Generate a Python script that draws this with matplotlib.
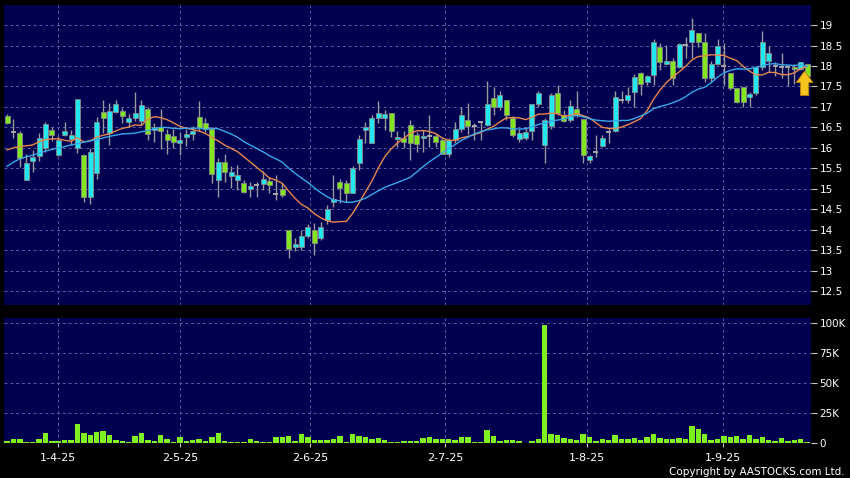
import numpy as np
import pandas as pd
import matplotlib
matplotlib.use("Agg")
import matplotlib.pyplot as plt
from matplotlib.ticker import FuncFormatter

# daily OHLC (oldest first)
opens = [16.78, 16.38, 16.36, 15.22, 15.69, 15.79, 15.99, 16.43, 15.83, 16.32,
         16.21, 15.99, 15.83, 14.80, 15.38, 16.88, 16.36, 16.87, 16.89, 16.63,
         16.74, 16.66, 16.96, 16.43, 16.52, 16.35, 16.29, 16.12, 16.27, 16.34,
         16.76, 16.60, 16.45, 15.21, 15.66, 15.32, 15.21, 15.15, 15.00, 15.07,
         15.11, 15.20, 14.88, 14.99, 14.00, 13.58, 13.58, 13.85, 13.99, 13.79,
         14.23, 14.67, 15.17, 15.13, 14.90, 15.64, 16.43, 16.13, 16.73, 16.73,
         16.85, 16.22, 16.25, 16.57, 16.31, 16.23, 16.30, 16.30, 16.19, 15.86,
         16.19, 16.45, 16.68, 16.52, 16.64, 16.55, 17.21, 16.99, 17.18, 16.73,
         16.21, 16.23, 16.40, 17.06, 16.08, 16.53, 17.33, 16.81, 16.68, 16.96,
         16.70, 15.70, 15.90, 16.04, 16.39, 16.41, 17.18, 17.17, 17.36, 17.84,
         17.60, 17.77, 18.47, 18.06, 18.13, 17.98, 18.51, 18.58, 18.80, 18.58,
         17.70, 18.06, 18.00, 17.82, 17.45, 17.49, 17.23, 17.33, 17.98, 18.11,
         18.00, 17.98, 17.98, 17.98, 17.92, 18.04]
highs = [16.82, 16.70, 16.42, 15.86, 15.95, 16.36, 16.64, 16.52, 16.28, 16.62,
         16.43, 17.20, 15.86, 15.99, 16.75, 17.17, 17.09, 17.17, 16.97, 16.82,
         17.36, 17.18, 17.00, 16.61, 16.95, 16.47, 16.47, 16.39, 16.47, 16.53,
         17.14, 16.72, 16.52, 15.74, 15.86, 15.55, 15.58, 15.21, 15.17, 15.17,
         15.44, 15.29, 15.33, 15.15, 14.00, 13.79, 14.00, 14.14, 14.17, 14.20,
         14.60, 15.33, 15.24, 15.21, 15.56, 16.31, 16.64, 16.80, 17.15, 16.93,
         16.85, 16.40, 16.40, 16.68, 16.39, 16.43, 16.80, 16.33, 16.23, 16.23,
         16.62, 16.99, 17.10, 16.60, 16.64, 17.63, 17.49, 17.39, 17.18, 16.78,
         16.47, 16.52, 17.06, 17.40, 16.72, 17.33, 17.53, 16.92, 17.17, 17.40,
         16.70, 15.82, 16.31, 16.31, 16.52, 17.40, 17.40, 17.48, 17.80, 17.86,
         17.78, 18.67, 18.55, 18.51, 18.19, 18.55, 18.71, 19.17, 18.80, 18.80,
         18.12, 18.67, 18.55, 17.82, 17.45, 17.49, 17.37, 18.00, 18.86, 18.48,
         18.10, 18.31, 18.00, 18.05, 18.10, 18.06]
lows = [16.58, 16.24, 15.53, 15.22, 15.42, 15.67, 15.91, 16.16, 15.79, 16.28,
        16.07, 15.88, 14.68, 14.63, 15.25, 16.36, 16.07, 16.85, 16.60, 16.52,
        16.66, 16.56, 16.20, 16.15, 15.96, 15.86, 15.99, 15.82, 16.04, 16.19,
        16.41, 16.39, 15.13, 14.80, 15.17, 15.01, 14.98, 14.89, 14.79, 14.80,
        14.97, 14.89, 14.72, 14.80, 13.30, 13.48, 13.50, 13.79, 13.38, 13.75,
        14.14, 14.55, 14.65, 14.68, 14.89, 15.46, 16.11, 16.11, 16.61, 16.43,
        16.27, 16.03, 16.00, 15.70, 15.90, 15.90, 16.03, 16.03, 15.85, 15.78,
        16.12, 16.39, 16.35, 16.19, 16.19, 16.54, 16.80, 16.92, 16.68, 16.27,
        16.15, 16.19, 16.19, 17.00, 15.62, 16.47, 16.80, 16.64, 16.64, 16.76,
        15.62, 15.64, 15.78, 16.01, 16.12, 16.39, 17.09, 17.09, 17.00, 17.29,
        17.53, 17.53, 17.90, 18.02, 17.53, 17.94, 18.19, 18.19, 18.47, 17.62,
        17.62, 18.02, 17.53, 17.41, 17.09, 17.00, 17.00, 17.29, 17.90, 17.85,
        17.75, 17.70, 17.50, 17.55, 17.90, 17.72]
closes = [16.60, 16.38, 15.75, 15.64, 15.77, 16.24, 16.58, 16.32, 16.18, 16.40,
          16.32, 17.19, 14.81, 15.91, 16.64, 16.72, 16.91, 17.07, 16.77, 16.74,
          16.84, 17.05, 16.35, 16.52, 16.42, 16.20, 16.15, 16.20, 16.33, 16.40,
          16.49, 16.45, 15.37, 15.66, 15.42, 15.42, 15.33, 14.93, 15.07, 15.09,
          15.23, 15.10, 14.88, 14.85, 13.54, 13.64, 13.85, 14.07, 13.68, 14.07,
          14.50, 14.75, 15.03, 14.90, 15.50, 16.21, 16.52, 16.72, 16.86, 16.82,
          16.40, 16.26, 16.15, 16.12, 16.09, 16.29, 16.30, 16.15, 15.86, 16.19,
          16.47, 16.80, 16.54, 16.53, 16.64, 17.06, 16.99, 17.28, 16.80, 16.31,
          16.37, 16.39, 17.06, 17.33, 16.67, 17.28, 16.84, 16.66, 17.03, 16.80,
          15.82, 15.79, 15.90, 16.23, 16.39, 17.25, 17.18, 17.28, 17.74, 17.57,
          17.75, 18.58, 18.10, 18.13, 17.70, 18.53, 18.51, 18.88, 18.58, 17.70,
          18.04, 18.50, 18.00, 17.45, 17.13, 17.13, 17.32, 17.98, 18.58, 18.32,
          18.00, 17.98, 17.98, 17.92, 18.09, 17.75]
# volume in thousands of shares
volumes = [2.0, 3.6, 3.6, 1.1, 1.1, 3.6, 8.6, 2.0, 2.0, 2.5,
           2.5, 16.0, 8.3, 7.0, 9.7, 10.5, 6.7, 2.5, 2.2, 0.8,
           6.4, 8.9, 2.5, 2.0, 7.0, 3.6, 1.1, 5.3, 1.7, 2.8,
           3.3, 1.7, 5.6, 8.9, 2.0, 0.8, 1.4, 0.8, 3.3, 2.2,
           1.4, 1.4, 5.0, 5.0, 6.1, 2.0, 7.8, 5.3, 2.5, 2.5,
           2.8, 3.3, 6.4, 0.8, 7.8, 6.1, 5.3, 3.9, 4.7, 2.5,
           1.1, 1.1, 1.7, 2.0, 2.2, 4.4, 5.3, 3.3, 3.3, 3.3,
           2.8, 5.0, 5.3, 0.8, 0.8, 11.0, 6.1, 2.2, 2.5, 2.5,
           1.7, 0.3, 1.7, 3.3, 98.6, 7.5, 6.7, 4.2, 3.3, 2.5,
           7.5, 5.0, 1.7, 3.3, 2.5, 7.2, 3.9, 3.9, 4.2, 2.5,
           5.0, 7.5, 4.4, 3.6, 3.9, 4.4, 3.6, 14.4, 11.9, 7.5,
           2.8, 3.3, 6.1, 5.3, 6.4, 3.3, 6.9, 3.9, 5.0, 2.5,
           2.0, 4.4, 2.0, 2.5, 3.6, 1.1]
# moving averages at the left edge (need history before the window)
ma10_head = [15.95, 16.00, 16.03, 16.05, 16.07, 16.15, 16.20, 16.22, 16.22]
ma20_head = [15.55, 15.65, 15.73, 15.78, 15.82, 15.87, 15.92, 15.96, 16.00, 16.03,
             16.07, 16.10, 16.14, 16.17, 16.20, 16.24, 16.28, 16.31, 16.34]

date_labels = ["1-4-25", "2-5-25", "2-6-25", "2-7-25", "1-8-25", "1-9-25"]
date_pos = [8, 27, 47.4, 68.5, 90.6, 111.8]
price_ticks = [12.5, 13, 13.5, 14, 14.5, 15, 15.5, 16, 16.5, 17, 17.5, 18, 18.5, 19]
vol_ticks = [0, 25, 50, 75, 100]

BG = '#000050'
GRID = '#5c5ca0'
UP = '#22e6f0'
DOWN = '#82e61e'
WICK = '#9a9a9a'

df = pd.DataFrame({"o": opens, "h": highs, "l": lows, "c": closes, "v": volumes})
x = np.arange(len(df))
ma10 = df["c"].rolling(10).mean().values
ma10[:9] = ma10_head
ma20 = df["c"].rolling(20).mean().values
ma20[:19] = ma20_head

fig = plt.figure(figsize=(8.5, 4.78), dpi=100, facecolor='black')
ax = fig.add_axes([4/850, 1-305/478, 807/850, 300/478], facecolor=BG)
axv = fig.add_axes([4/850, 1-443.3/478, 807/850, 125.3/478], facecolor=BG)

# grids
for a in (ax, axv):
    a.set_xlim(-0.47, 125.6)
    a.set_xticks(date_pos)
    a.grid(True, color=GRID, linestyle=(0, (3, 3)), linewidth=0.7)
    a.set_axisbelow(True)
    for s in a.spines.values():
        s.set_visible(False)
    a.yaxis.tick_right()
    a.tick_params(axis='y', colors='#c8c8c8', labelcolor='white', length=4,
                  width=0.8, pad=2, labelsize=7.5)

# candles
w = 0.78
up = df["c"] > df["o"] + 0.02
down = df["c"] < df["o"] - 0.02
doji = ~(up | down)
ax.vlines(x, df["l"], df["h"], color=WICK, linewidth=1, zorder=2)
ax.bar(x[up], (df["c"] - df["o"])[up], bottom=df["o"][up], width=w,
       color=UP, edgecolor='#8a8a8a', linewidth=0.6, zorder=3)
ax.bar(x[down], (df["o"] - df["c"])[down], bottom=df["c"][down], width=w,
       color=DOWN, edgecolor='#8a8a8a', linewidth=0.6, zorder=3)
ax.hlines(df["c"][doji], x[doji] - w/2, x[doji] + w/2, color='#a8a8a8', linewidth=1.4, zorder=3)

ax.plot(x, ma10, color='#e8884a', linewidth=1, zorder=4)
ax.plot(x, ma20, color='#3aa8e8', linewidth=1, zorder=4)

# last-close arrow
ax.annotate('', xy=(124.6, 17.88), xytext=(124.6, 17.28),
            arrowprops=dict(arrowstyle='simple,head_length=0.7,head_width=1.0,tail_width=0.5',
                            fc='#f6c21c', ec='#b88000', lw=0.6, shrinkA=0, shrinkB=0,
                            mutation_scale=12), zorder=5)

ax.set_ylim(12.16, 19.49)
ax.set_yticks(price_ticks)
ax.yaxis.set_major_formatter(FuncFormatter(lambda v, p: '%g' % v))
ax.tick_params(axis='x', length=0, labelbottom=False)

# volume
axv.bar(x, df["v"], width=0.85, color='#7ef01e', zorder=3)
axv.set_ylim(0, 104.2)
axv.set_yticks(vol_ticks)
axv.yaxis.set_major_formatter(FuncFormatter(lambda v, p: '0' if v == 0 else '%dK' % v))
axv.set_xticklabels(date_labels)
axv.tick_params(axis='x', colors='#c8c8c8', labelcolor='white', length=3,
                width=0.8, pad=4, labelsize=8)

fig.text(0.994, 0.003, 'Copyright by AASTOCKS.com Ltd.', color='white',
         fontsize=7.5, ha='right', va='bottom')

fig.savefig('out.png', dpi=100, facecolor='black')
